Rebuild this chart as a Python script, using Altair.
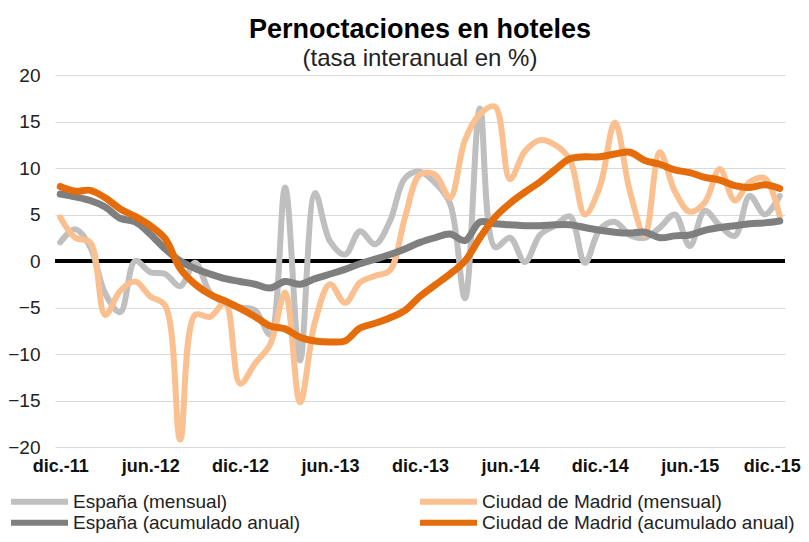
import altair as alt
import pandas as pd

tick_labels = ["dic.-11", "jun.-12", "dic.-12", "jun.-13", "dic.-13",
               "jun.-14", "dic.-14", "jun.-15", "dic.-15"]

mensual_names = ["España (mensual)", "Ciudad de Madrid (mensual)"]
acum_names = ["España (acumulado anual)", "Ciudad de Madrid (acumulado anual)"]
mensual_colors = ["#BFBFBF", "#FAC090"]
acum_colors = ["#7F7F7F", "#E46C0A"]

espana_mensual = [2.0, 3.4, 1.5, -3.5, -5.5, 0.0, -1.2, -1.4, -2.7, -0.2,
                  -3.4, -4.6, -5.0, -5.3, -7.9, 7.9, -10.7, 7.3, 2.1, 0.7,
                  3.2, 1.8, 4.3, 8.9, 9.6, 8.4, 6.2, -4.0, 16.4, 1.5,
                  2.5, -0.1, 2.8, 3.8, 4.8, -0.2, 3.4, 4.2, 2.8, 2.5,
                  3.6, 5.0, 1.6, 5.4, 3.8, 2.7, 7.0, 5.0, 7.0]

madrid_mensual = [4.7, 2.5, 2.0, -5.8, -3.2, -2.2, -3.8, -4.8, -19.2, -5.8,
                  -6.0, -4.5, -13.2, -11.0, -9.0, -3.4, -15.2, -6.5, -2.5, -4.5,
                  -2.3, -1.6, -1.0, 4.7, 9.3, 9.3, 6.8, 13.0, 15.8, 16.6,
                  8.8, 11.8, 13.0, 12.5, 10.9, 5.0, 8.0, 14.9, 7.5, 2.8,
                  11.7, 7.5, 5.3, 6.3, 9.9, 6.5, 8.5, 8.9, 4.8]

espana_acum = [7.2, 6.9, 6.5, 5.8, 4.6, 4.2, 2.9, 1.3, 0.0, -0.8,
               -1.4, -1.9, -2.2, -2.5, -2.9, -2.2, -2.5, -1.9, -1.4, -0.9,
               -0.3, 0.2, 0.7, 1.3, 2.0, 2.5, 2.9, 2.2, 4.2, 4.0,
               3.9, 3.8, 3.8, 3.9, 3.9, 3.6, 3.3, 3.1, 3.0, 3.1,
               2.5, 2.7, 2.8, 3.3, 3.6, 3.8, 4.0, 4.1, 4.3]

madrid_acum = [8.0, 7.5, 7.6, 6.8, 5.6, 4.8, 3.8, 2.4, -0.8, -2.5,
               -3.6, -4.3, -5.1, -6.0, -7.0, -7.3, -8.2, -8.6, -8.7, -8.6,
               -7.2, -6.7, -6.1, -5.3, -3.8, -2.6, -1.4, 0.0, 2.5, 4.7,
               6.2, 7.4, 8.5, 9.8, 11.0, 11.2, 11.2, 11.5, 11.7, 10.8,
               10.4, 9.8, 9.5, 9.0, 8.7, 8.1, 7.9, 8.2, 7.8]

series = [(mensual_names[0], espana_mensual), (mensual_names[1], madrid_mensual),
          (acum_names[0], espana_acum), (acum_names[1], madrid_acum)]
rows = []
for name, vals in series:
    for i, v in enumerate(vals):
        rows.append({"mes": i, "valor": v, "serie": name})
df = pd.DataFrame(rows)

label_array = "[" + ",".join("'" + t + "'" for t in tick_labels) + "]"

FONT = "Liberation Sans"

x_enc = alt.X("mes:Q",
              scale=alt.Scale(domain=[-0.35, 48.35], nice=False, zero=False),
              axis=alt.Axis(values=list(range(0, 49, 6)), title=None,
                            labelExpr=label_array + "[round(datum.value/6)]",
                            grid=False, ticks=False, domain=False,
                            labelFont=FONT, labelFontSize=18, labelFontWeight="bold",
                            labelColor="#111", labelPadding=10,
                            labelOffset={"condition": {"test": "datum.value >= 48",
                                                       "value": -8},
                                         "value": 0}))
y_enc = alt.Y("valor:Q",
              scale=alt.Scale(domain=[-20, 20], nice=False),
              axis=alt.Axis(values=list(range(-20, 21, 5)), title=None,
                            grid=True, gridColor="#D9D9D9", gridWidth=1,
                            ticks=False, domain=False,
                            labelFont=FONT, labelFontSize=19, labelColor="#222",
                            labelPadding=15))


def legend(y, pad):
    return alt.Legend(title=None, orient="none", direction="horizontal",
                      legendX=-47, legendY=y,
                      symbolType="stroke", symbolSize=3249,
                      symbolStrokeWidth=6, labelFont=FONT,
                      labelFontSize=19, labelColor="#222",
                      labelOffset=2, columnPadding=pad, labelLimit=400)


color_m = alt.Color("serie:N", sort=mensual_names,
                    scale=alt.Scale(domain=mensual_names, range=mensual_colors),
                    legend=legend(395, 180))
color_a = alt.Color("serie:N", sort=acum_names,
                    scale=alt.Scale(domain=acum_names, range=acum_colors),
                    legend=legend(416, 107))


def line(name, width, color):
    return (alt.Chart(df).transform_filter(alt.datum.serie == name)
            .mark_line(interpolate="catmull-rom", strokeWidth=width, strokeCap="round")
            .encode(x=x_enc, y=y_enc, color=color))


zero = alt.Chart(pd.DataFrame({"valor": [0]})).mark_rule(
    color="black", strokeWidth=4).encode(y=y_enc)

mensual = alt.layer(line(mensual_names[0], 6, color_m), line(mensual_names[1], 6, color_m))
acum = alt.layer(line(acum_names[0], 7, color_a), line(acum_names[1], 7, color_a))

chart = alt.layer(zero, mensual, acum).resolve_scale(color="independent").properties(
    width=730, height=372,
    autosize=alt.AutoSizeParams(type="none"),
    padding={"left": 47, "top": 67, "right": 16, "bottom": 87},
    title=alt.TitleParams(text="Pernoctaciones en hoteles",
                          subtitle="(tasa interanual en %)",
                          anchor="middle", font=FONT, fontSize=27,
                          fontWeight="bold", color="#000",
                          subtitleFont=FONT, subtitleFontSize=24,
                          subtitleColor="#222", offset=-6, subtitlePadding=3),
).configure_view(stroke=None)

chart.save("out.html", embed_options={"renderer": "svg", "actions": False})
